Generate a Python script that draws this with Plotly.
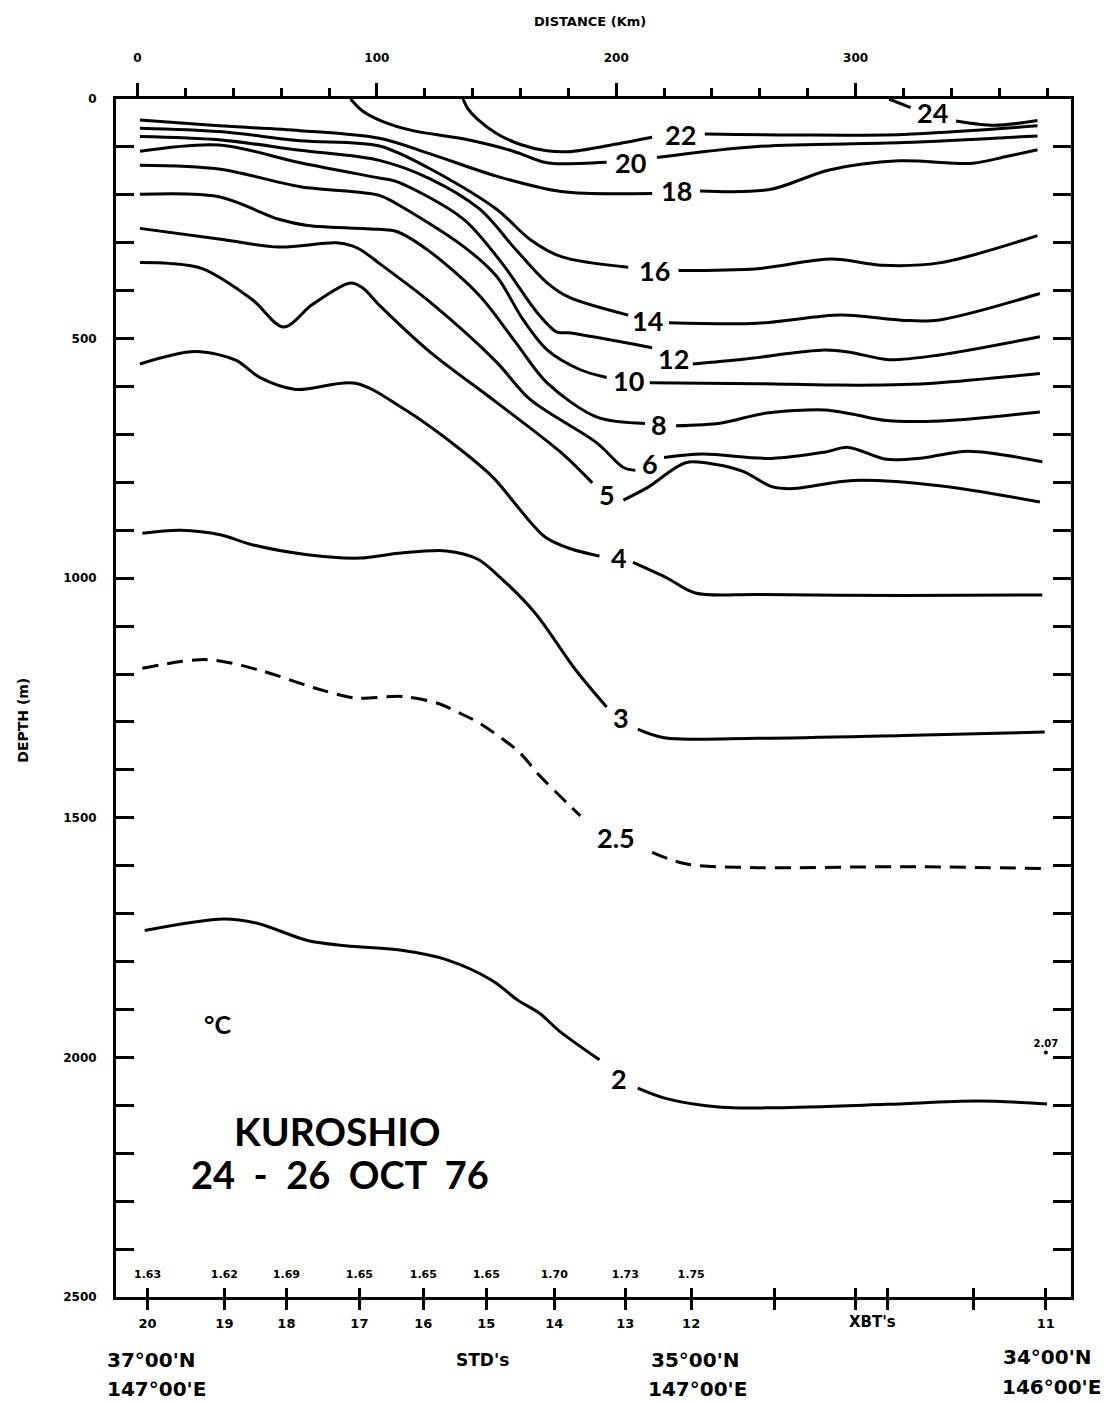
import plotly.graph_objects as go

# ---------------- data (distance km, depth m); None = gap where the label sits ----------------
t24_km = [314, 323, None, 342, 358, 376]
t24_m = [0, 18, None, 46, 55, 45]

t22_km = [136, 138, 142, 150, 160, 171, 180, 198, 215, None, 237, 274, 320, 376]
t22_m = [0, 20, 42, 72, 95, 108, 110, 96, 80, None, 73, 75, 74, 56]

t20_km = [89, 94, 102, 115, 136, 157, 169, 175, 196, None, 217, 259, 320, 376]
t20_m = [0, 25, 46, 66, 83, 109, 131, 135, 132, None, 122, 99, 91, 77]

t18_km = [1, 34, 68, 101, 122, 150, 177, 215, None, 235, 264, 289, 318, 349, 363, 376]
t18_m = [44, 56, 66, 82, 114, 161, 193, 197, None, 192, 189, 148, 129, 134, 120, 106]

t16_km = [1, 34, 68, 101, 122, 150, 164, 177, 205, None, 226, 259, 290, 311, 335, 376]
t16_m = [61, 68, 87, 98, 145, 230, 293, 329, 351, None, 358, 354, 334, 347, 342, 285]

t14_km = [1, 34, 68, 101, 122, 143, 158, 171, 180, 205, None, 222, 259, 294, 320, 335, 377]
t14_m = [78, 85, 107, 128, 166, 230, 314, 383, 413, 451, None, 467, 468, 451, 462, 461, 406]

t12_km = [1, 34, 68, 101, 108, 136, 152, 167, 175, 180, 215, None, 232, 253, 287, 297, 314, 335, 377]
t12_m = [109, 96, 133, 165, 172, 250, 341, 446, 486, 488, 519, None, 553, 543, 524, 528, 544, 534, 496]

t10_km = [1, 34, 68, 101, 108, 136, 150, 161, 171, 185, 196, None, 214, 259, 293, 320, 335, 377]
t10_m = [138, 146, 183, 201, 218, 307, 370, 460, 523, 565, 581, None, 592, 594, 597, 596, 592, 573]

t8_km = [1, 34, 59, 71, 101, 108, 122, 143, 158, 171, 192, 212, None, 225, 244, 262, 287, 299, 313, 335, 377]
t8_m = [199, 204, 251, 264, 272, 276, 318, 411, 508, 592, 664, 677, None, 682, 676, 656, 649, 658, 671, 672, 653]

t6_km = [1, 34, 59, 83, 90, 94, 101, 122, 150, 164, 192, 203, 208, None, 220, 236, 265, 287, 297, 313, 328, 347, 378]
t6_m = [270, 292, 309, 300, 307, 317, 343, 423, 549, 627, 718, 769, 775, None, 748, 741, 750, 737, 727, 752, 749, 735, 757]

t5_km = [1, 13, 27, 48, 61, 73, 89, 94, 101, 122, 150, 177, 190, None, 203, 213, 229, 241, 253, 265, 274, 299, 335, 377]
t5_m = [341, 343, 354, 419, 476, 429, 384, 394, 430, 527, 633, 738, 801, None, 837, 811, 759, 762, 777, 809, 813, 796, 807, 841]

t4_km = [1, 24, 41, 51, 66, 91, 111, 133, 148, 170, 180, 193, None, 207, 221, 233, 259, 320, 378]
t4_m = [553, 527, 545, 581, 606, 593, 646, 724, 787, 913, 937, 954, None, 967, 999, 1031, 1034, 1036, 1035]

t3_km = [2, 18, 35, 47, 71, 93, 109, 129, 142, 151, 166, 183, 196, None, 209, 220, 259, 320, 379]
t3_m = [906, 900, 910, 929, 951, 958, 948, 943, 960, 996, 1072, 1191, 1269, None, 1315, 1333, 1334, 1328, 1321]

t25_km = [2, 29, 51, 74, 91, 111, 126, 136, 142, 159, 168, 185, None, 215, 229, 259, 320, 379]
t25_m = [1188, 1170, 1192, 1229, 1250, 1247, 1262, 1285, 1300, 1361, 1412, 1496, None, 1572, 1596, 1604, 1602, 1606]

t2_km = [3, 36, 50, 71, 87, 111, 129, 148, 159, 168, 176, 193, None, 209, 221, 244, 267, 313, 351, 380]
t2_m = [1735, 1711, 1720, 1756, 1767, 1777, 1796, 1839, 1881, 1908, 1944, 2005, None, 2064, 2086, 2104, 2105, 2098, 2091, 2097]

iso_labels = ["24", "22", "20", "18", "16", "14", "12", "10", "8", "6", "5", "4", "3", "2.5", "2"]
lab_km = [332, 227, 206, 225, 216, 213, 224, 205, 218, 214, 196, 201, 202, 200, 201]
lab_m = [29, 75, 132, 191, 358, 462, 542, 587, 679, 761, 826, 956, 1290, 1542, 2043]

station_km = [4.2, 36.3, 62.2, 92.7, 119.4, 145.7, 174.1, 203.8, 231.3, 379.5]
station_names = ["20", "19", "18", "17", "16", "15", "14", "13", "12", "11"]
xbt_km = [266.3, 299.8, 313.2, 349.1]
bottom_temps = ["1.63", "1.62", "1.69", "1.65", "1.65", "1.65", "1.70", "1.73", "1.75"]

xbt11_temp = "2.07"
xbt11_depth = 1990

dist_major = [0, 100, 200, 300]
dist_minor = [20, 40, 60, 80, 120, 140, 160, 180, 220, 240, 260, 280, 320, 340, 360, 380]
depth_ticks = list(range(0, 2501, 100))
depth_labels = [str(d) if d % 500 == 0 else "" for d in depth_ticks]

# ---------------- figure ----------------
BIG = "Lato"
SMALL = "DejaVu Sans"
BLACK = "black"
XR = [-9, 390]
YR = [2500, 0]
NB = "\u00a0"


def font(size, family=SMALL, weight=700):
    return dict(family=family, size=size, color=BLACK, weight=weight)


def xpaper(km):
    return (km - XR[0]) / (XR[1] - XR[0])


def ypaper(m):
    return (YR[0] - m) / (YR[0] - YR[1])


isotherms = [
    (t24_km, t24_m, "solid"), (t22_km, t22_m, "solid"), (t20_km, t20_m, "solid"),
    (t18_km, t18_m, "solid"), (t16_km, t16_m, "solid"), (t14_km, t14_m, "solid"),
    (t12_km, t12_m, "solid"), (t10_km, t10_m, "solid"), (t8_km, t8_m, "solid"),
    (t6_km, t6_m, "solid"), (t5_km, t5_m, "solid"), (t4_km, t4_m, "solid"),
    (t3_km, t3_m, "solid"), (t25_km, t25_m, "16px,9px"), (t2_km, t2_m, "solid"),
]

fig = go.Figure()
for xs, ys, dash in isotherms:
    fig.add_trace(go.Scatter(
        x=xs, y=ys, mode="lines", connectgaps=False, hoverinfo="skip",
        line=dict(color=BLACK, width=3, shape="spline", smoothing=0.9, dash=dash),
    ))

for txt, xk, ym in zip(iso_labels, lab_km, lab_m):
    fig.add_annotation(x=xk, y=ym, text=txt, showarrow=False, font=font(27, BIG),
                       xanchor="center", yanchor="middle")

# bottom temperatures at the STD stations
fig.add_trace(go.Scatter(
    x=station_km[:len(bottom_temps)], y=[2455] * len(bottom_temps), mode="text",
    text=bottom_temps, textfont=font(11), cliponaxis=False, hoverinfo="skip",
    xaxis="x2",
))

# XBT value near 2000 m at station 11
fig.add_trace(go.Scatter(
    x=[station_km[-1]], y=[xbt11_depth], mode="markers+text", text=[xbt11_temp],
    textposition="top center", textfont=font(10),
    marker=dict(color=BLACK, size=4), cliponaxis=False, hoverinfo="skip",
    xaxis="x3",
))

# text inside plot
inner = [
    ("°C", 33.6, 1930, 25),
    ("KUROSHIO", 83.4, 2154, 39),
    (NB.join(["24", "", "-", "", "26", "", "OCT", "", "76"]).replace(NB + NB, NB + " "), 84.6, 2243, 38),
]
for txt, xk, ym, sz in inner:
    fig.add_annotation(x=xk, y=ym, text=txt, showarrow=False, font=font(sz, BIG),
                       xanchor="center", yanchor="middle")

# text outside the plot area (paper coordinates)
outer = [
    ("DISTANCE (Km)", 189, -161, 13, "center", 0),
    ("DEPTH (m)", -48, 1296, 14, "center", -90),
    ("37°00'N", -13.6, 2631, 20, "left", 0),
    ("147°00'E", -13.6, 2692, 20, "left", 0),
    ("STD's", 144, 2631, 17, "center", 0),
    ("35°00'N", 233, 2631, 20, "center", 0),
    ("147°00'E", 234, 2692, 20, "center", 0),
    ("34°00'N", 380, 2625, 20, "center", 0),
    ("146°00'E", 381.7, 2688, 20, "center", 0),
    ("XBT's", 307, 2552, 15, "center", 0),
]
for txt, xk, ym, sz, anc, ang in outer:
    fig.add_annotation(x=xpaper(xk), y=ypaper(ym), xref="paper", yref="paper",
                       text=txt, showarrow=False, font=font(sz),
                       xanchor=anc, yanchor="middle", textangle=ang)

# the page adds an 8 px body margin, so the figure is drawn 8 px smaller
fig.update_layout(
    width=1104, height=1395,
    margin=dict(l=108, r=41, t=91, b=106),
    paper_bgcolor="white", plot_bgcolor="white", showlegend=False,
    xaxis=dict(
        range=XR, side="top", showline=True, linewidth=3, linecolor=BLACK, mirror=True,
        showgrid=False, zeroline=False, ticks="outside", tickvals=dist_major,
        ticktext=[str(v) for v in dist_major], ticklen=13, tickwidth=2.5, tickcolor=BLACK,
        minor=dict(tickmode="array", tickvals=dist_minor, ticks="outside", ticklen=8,
                   tickwidth=2.5, tickcolor=BLACK, showgrid=False),
        tickfont=font(12), ticklabelstandoff=16,
    ),
    xaxis2=dict(
        range=XR, overlaying="x", side="bottom", anchor="y", showline=True, linewidth=3,
        linecolor=BLACK, showgrid=False, zeroline=False, ticks="outside",
        tickvals=station_km + xbt_km, ticktext=station_names + [""] * len(xbt_km),
        ticklen=10, tickwidth=2.5, tickcolor=BLACK, tickfont=font(13), ticklabelstandoff=2,
    ),
    xaxis3=dict(
        range=XR, overlaying="x", side="bottom", anchor="y", showline=False,
        showgrid=False, zeroline=False, ticks="inside", tickvals=station_km + xbt_km,
        ticklen=9, tickwidth=2.5, tickcolor=BLACK, showticklabels=False,
    ),
    yaxis=dict(
        range=YR, showline=True, linewidth=3, linecolor=BLACK, mirror="ticks",
        showgrid=False, zeroline=False, ticks="inside", tickvals=depth_ticks,
        ticktext=depth_labels, ticklen=18, tickwidth=2.5, tickcolor=BLACK,
        tickfont=font(12), ticklabelstandoff=14,
    ),
)

fig.write_html("out.html")
